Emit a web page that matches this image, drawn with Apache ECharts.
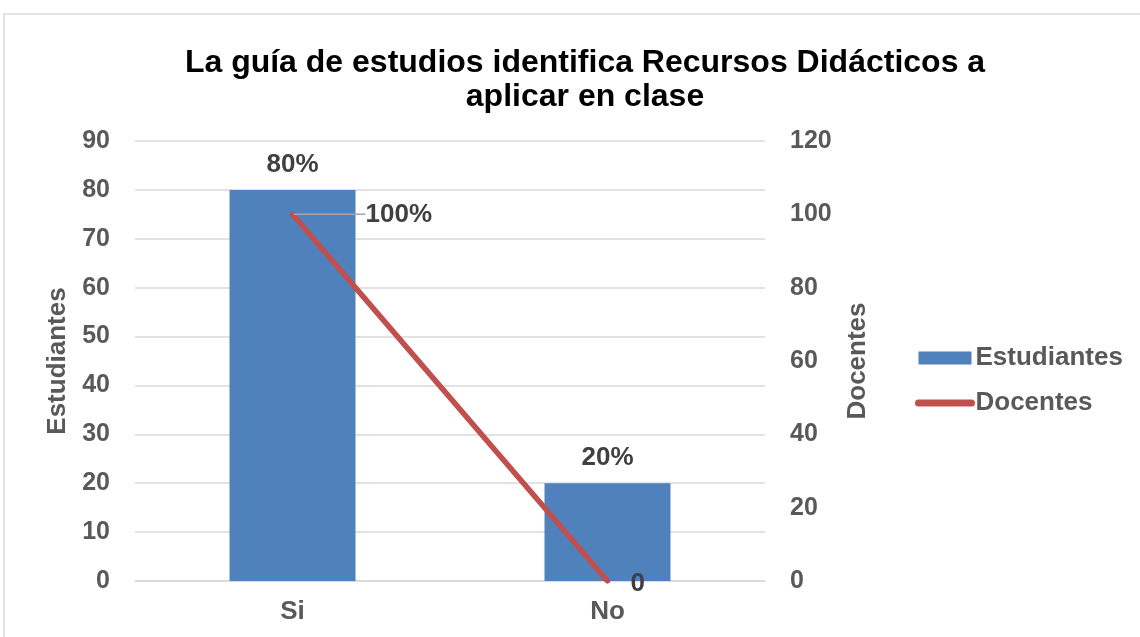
<!DOCTYPE html>
<html><head><meta charset="utf-8">
<script src="https://cdn.jsdelivr.net/npm/echarts@6/dist/echarts.min.js"></script>
<style>html,body{margin:0;padding:0;background:#fff}#c{width:1140px;height:637px}</style>
</head><body><div id="c"></div>
<script>
const categories = ['Si', 'No'];
const estudiantes = [80, 20];
const estudiantesLabels = ['80%', '20%'];
const docentes = [100, 0];
const docentesLabels = ['100%', '0'];
const leftTicks = {min: 0, max: 90, interval: 10};
const rightTicks = {min: 0, max: 120, interval: 20};

const FONT = '"Liberation Sans", Arial, sans-serif';
const chart = echarts.init(document.getElementById('c'));
chart.setOption({
  animation: false,
  textStyle: {fontFamily: FONT},
  graphic: [{type: 'rect', shape: {x: 4, y: 14, width: 1300, height: 800}, style: {fill: 'none', stroke: '#d9d9d9', lineWidth: 1.5}, silent: true}],
  title: {
    text: 'La guía de estudios identifica Recursos Didácticos a\naplicar en clase',
    left: 580, top: 41, textAlign: 'center',
    textStyle: {fontFamily: FONT, fontSize: 32, fontWeight: 'bold', color: '#000', lineHeight: 34}
  },
  legend: {
    orient: 'vertical', left: 910, top: 340, itemWidth: 53, itemHeight: 13, itemGap: 19,
    textStyle: {fontFamily: FONT, fontSize: 26, fontWeight: 'bold', color: '#595959', padding: [0,0,0,-1]},
    data: [
      {name: 'Estudiantes', icon: 'rect'},
      {name: 'Docentes', itemStyle: {opacity: 0}, lineStyle: {width: 7, cap: 'round', color: '#c0504d'}}
    ]
  },
  grid: {left: 135, right: 375, top: 141, bottom: 56, containLabel: false},
  xAxis: {
    type: 'category', data: categories,
    axisLine: {lineStyle: {color: '#d9d9d9', width: 1.5}}, axisTick: {show: false},
    axisLabel: {fontFamily: FONT, fontSize: 26, fontWeight: 'bold', color: '#595959', margin: 18}
  },
  yAxis: [{
    type: 'value', min: leftTicks.min, max: leftTicks.max, interval: leftTicks.interval,
    name: 'Estudiantes', nameLocation: 'middle', nameRotate: 90, nameGap: 63,
    nameTextStyle: {fontFamily: FONT, fontSize: 26, fontWeight: 'bold', color: '#595959'},
    axisLine: {show: false}, axisTick: {show: false},
    axisLabel: {fontFamily: FONT, fontSize: 25, fontWeight: 'bold', color: '#595959', margin: 25},
    splitLine: {lineStyle: {color: '#d9d9d9', width: 1.5}}
  }, {
    type: 'value', min: rightTicks.min, max: rightTicks.max, interval: rightTicks.interval,
    name: 'Docentes', nameLocation: 'middle', nameRotate: 90, nameGap: 80,
    nameTextStyle: {fontFamily: FONT, fontSize: 26, fontWeight: 'bold', color: '#595959'},
    axisLine: {show: false}, axisTick: {show: false},
    axisLabel: {fontFamily: FONT, fontSize: 25, fontWeight: 'bold', color: '#595959', margin: 25},
    splitLine: {show: false}
  }],
  series: [{
    name: 'Estudiantes', type: 'bar', yAxisIndex: 0, data: estudiantes, barWidth: '40%',
    itemStyle: {color: '#4f81bd'},
    label: {show: true, position: 'top', distance: 12, fontFamily: FONT, fontSize: 26, fontWeight: 'bold', color: '#404040',
      formatter: p => estudiantesLabels[p.dataIndex]}
  }, {
    name: 'Docentes', type: 'line', yAxisIndex: 1,
    data: docentes.map((v, i) => i === 0 ? v : {value: v, labelLine: {show: false}}),
    symbol: 'circle', symbolSize: 2, itemStyle: {color: '#c0504d'},
    lineStyle: {color: '#c0504d', width: 5.5, cap: 'round'},
    label: {show: true, position: 'right', distance: 22, fontFamily: FONT, fontSize: 26, fontWeight: 'bold', color: '#404040',
      formatter: p => docentesLabels[p.dataIndex]},
    labelLayout: p => p.dataIndex === 0 ? {dx: 50} : {dy: 3},
    labelLine: {show: true, lineStyle: {color: '#a6a6a6', width: 1.5}}
  }]
});
</script></body></html>
